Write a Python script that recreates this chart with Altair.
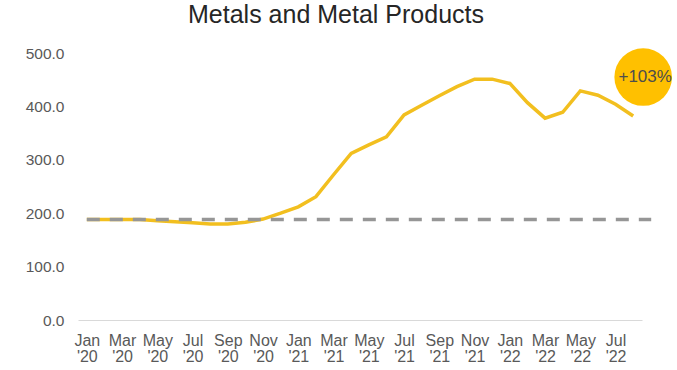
import altair as alt
import pandas as pd

months = ["Jan '20", "Feb '20", "Mar '20", "Apr '20", "May '20", "Jun '20",
          "Jul '20", "Aug '20", "Sep '20", "Oct '20", "Nov '20", "Dec '20",
          "Jan '21", "Feb '21", "Mar '21", "Apr '21", "May '21", "Jun '21",
          "Jul '21", "Aug '21", "Sep '21", "Oct '21", "Nov '21", "Dec '21",
          "Jan '22", "Feb '22", "Mar '22", "Apr '22", "May '22", "Jun '22",
          "Jul '22", "Aug '22"]
values = [188, 188, 188, 188, 186, 184, 182, 180, 180, 183, 189, 200,
          212, 231, 272, 312, 328, 343, 384, 402, 420, 437, 451, 451,
          443, 407, 378, 389, 429, 421, 404, 382]
tick_months = months[::2]
y_ticks = [0, 100, 200, 300, 400, 500]
baseline = 188
annotation_label = "+103%"
annotation_month = "Aug '22"
annotation_value = 455

FONT = "Liberation Sans"

df = pd.DataFrame({"month": months, "value": values})
rule_df = pd.DataFrame({"start": [months[0]], "end": [months[-1]], "base": [baseline]})
ann_df = pd.DataFrame({"month": [annotation_month], "value": [annotation_value],
                       "label": [annotation_label]})

x_scale = alt.Scale(type="point", padding=0.5, domain=months)
y_scale = alt.Scale(domain=[0, 500])

x_axis = alt.Axis(values=tick_months, labelExpr="split(datum.label, ' ')",
                  labelAngle=0, ticks=False, grid=False, domainColor="#d9d9d9",
                  domainWidth=1, labelFontSize=16, labelColor="#595959",
                  labelFont=FONT, labelPadding=12, labelLineHeight=16,
                  labelBaseline="top", title=None)
y_axis = alt.Axis(values=y_ticks, format=".1f", domain=False, ticks=False,
                  grid=False, labelPadding=14, labelFontSize=15.5,
                  labelColor="#595959", labelFont=FONT, title=None)

line = alt.Chart(df).mark_line(color="#F2BF1F", strokeWidth=3.5).encode(
    x=alt.X("month:O", scale=x_scale, axis=x_axis),
    y=alt.Y("value:Q", scale=y_scale, axis=y_axis),
)

rule = alt.Chart(rule_df).mark_rule(color="#969696", strokeWidth=3.5,
                                    strokeDash=[13, 10], x2Offset=18).encode(
    x=alt.X("start:O", scale=x_scale),
    x2="end:O",
    y=alt.Y("base:Q", scale=y_scale),
)

circle = alt.Chart(ann_df).mark_circle(color="#FFC000", opacity=1, size=3318,
                                       xOffset=10).encode(
    x=alt.X("month:O", scale=x_scale),
    y=alt.Y("value:Q", scale=y_scale),
)

text = alt.Chart(ann_df).mark_text(color="#4d4d4d", fontSize=17, font=FONT,
                                   dx=12, align="center", baseline="middle").encode(
    x=alt.X("month:O", scale=x_scale),
    y=alt.Y("value:Q", scale=y_scale),
    text="label:N",
)

chart = alt.layer(line, rule, circle, text).properties(
    width=564,
    height=267,
    background="white",
    title=alt.TitleParams("Metals and Metal Products", fontSize=25, font=FONT,
                          fontWeight="normal", color="#262626", anchor="middle",
                          dx=-24, offset=-2, baseline="alphabetic"),
    autosize=alt.AutoSizeParams(type="none"),
    padding={"left": 78, "top": 53, "right": 35, "bottom": 50},
).configure_view(strokeWidth=0, stroke="transparent")

chart.save("out.html", embed_options={"renderer": "svg", "actions": False})
